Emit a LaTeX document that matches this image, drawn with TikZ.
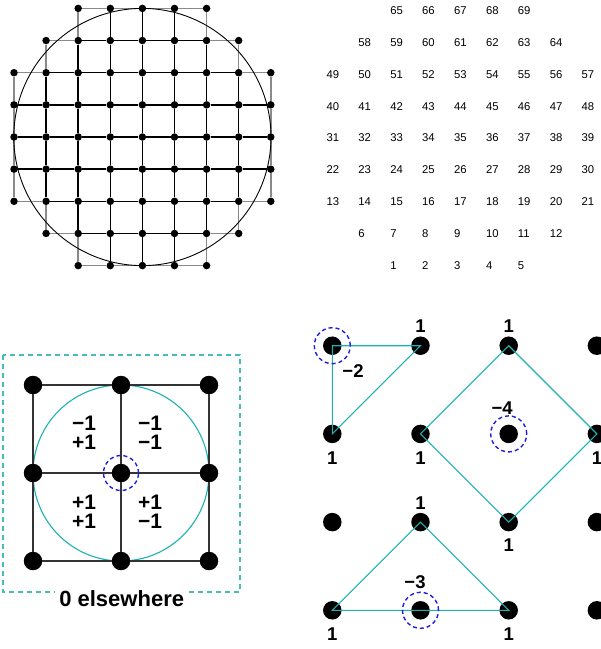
\documentclass[tikz,border=0pt]{standalone}
\usepackage{fontspec}
\setmainfont{Liberation Sans}
\usepackage{tikz}
\usetikzlibrary{positioning}
\definecolor{rimgray}{HTML}{8A8A8A}
\definecolor{darkline}{HTML}{333333}
\definecolor{stencil}{HTML}{1CB2B2}
\definecolor{boxcyan}{HTML}{45BDBD}
\definecolor{ringblue}{HTML}{1F1FE0}

\begin{document}
\begin{tikzpicture}[x=1pt,y=-1pt,
  gdot/.style={circle,fill=black,inner sep=0pt,minimum size=7.5pt},
  bdot/.style={circle,fill=black,inner sep=0pt,minimum size=18.5pt},
  edge/.style={black,line width=1.5pt},
  rim/.style={rimgray,line width=1.5pt},
  idx/.style={font=\fontsize{11.3}{13}\selectfont,anchor=base west,inner sep=0pt},
  wt/.style={font=\bfseries\fontsize{21}{19}\selectfont,align=center,inner sep=0pt},
  lbl/.style={font=\bfseries\fontsize{18.5}{20}\selectfont,inner sep=0pt},
  ring/.style={ringblue,line width=1.4pt,dash pattern=on 4pt off 3pt},
  stencil line/.style={stencil,line width=1.1pt}]
\useasboundingbox (0,0) rectangle (601,649);
\clip (0,0) rectangle (601,649);

% discretised disc and its point numbering
\foreach \r/\a/\b/\s in {9/3/7/1, 8/2/8/6, 7/1/9/13, 6/1/9/22, 5/1/9/31, 4/1/9/40, 3/1/9/49, 2/2/8/58, 1/3/7/65}{
  \foreach \c in {\a,...,\b}{
    \pgfmathtruncatemacro\k{\s+\c-\a}
    \node[gdot] (g-\r-\c) at ({14+32.1*(\c-1)},{8.4+32.15*(\r-1)}) {};
    \node[idx] (n\k) at ({326.3+31.9*(\c-1)},{14.7+31.8*(\r-1)}) {\k};
  }
}
\foreach \r/\a/\b in {1/3/7, 2/2/8, 3/1/9, 4/1/9, 5/1/9, 6/1/9, 7/1/9, 8/2/8, 9/3/7}{
  \pgfmathtruncatemacro\e{\b-1}
  \foreach \c in {\a,...,\e}{
    \pgfmathtruncatemacro\n{\c+1}
    \draw[edge] (g-\r-\c) -- (g-\r-\n);
    \draw[edge] (g-\c-\r) -- (g-\n-\r);
  }
}
\foreach \u/\v in {1-3/1-4, 1-4/1-5, 1-5/1-6, 1-6/1-7, 9-3/9-4, 9-4/9-5, 9-5/9-6, 9-6/9-7,
  3-1/4-1, 4-1/5-1, 5-1/6-1, 6-1/7-1, 3-9/4-9, 4-9/5-9, 5-9/6-9, 6-9/7-9,
  1-3/2-3, 2-2/2-3, 2-2/3-2, 3-1/3-2, 1-7/2-7, 2-7/2-8, 2-8/3-8, 3-8/3-9,
  7-1/7-2, 7-2/8-2, 8-2/8-3, 8-3/9-3, 7-8/7-9, 7-8/8-8, 8-7/8-8, 8-7/9-7}
  \draw[rim] (g-\u) -- (g-\v);
\coordinate (gc) at (142.4,137);
\draw[black,line width=0.9pt] (gc) circle (128.6pt);

% nine-point cell
\coordinate (bc) at (121,473);
\draw[stencil line] (bc) circle (88pt);
\draw[boxcyan,line width=1.3pt,dash pattern=on 5pt off 4pt] (3,355) rectangle (240,592);
\foreach \i/\y in {1/385,2/473,3/561}
  \foreach \j/\x in {1/33,2/121,3/209}
    \node[bdot] (b-\i-\j) at (\x,\y) {};
\foreach \i in {1,2,3}{
  \draw[darkline,line width=1.1pt] (b-\i-1) -- (b-\i-2);
  \draw[darkline,line width=1.1pt] (b-\i-2) -- (b-\i-3);
  \draw[darkline,line width=1.1pt] (b-1-\i) -- (b-2-\i);
  \draw[darkline,line width=1.1pt] (b-2-\i) -- (b-3-\i);
}
\draw[ring] (b-2-2.center) circle (17.5pt);
\node[wt] (q1) at (84,433) {−1\\+1};
\node[wt] (q2) at (150,433) {−1\\−1};
\node[wt] (q3) at (84,512) {+1\\+1};
\node[wt] (q4) at (150,512) {+1\\−1};
\node[font=\bfseries\fontsize{22}{24}\selectfont,fill=white,inner xsep=4pt,inner ysep=1pt,anchor=base] (zero) at (121.7,606) {0 elsewhere};

% stencils on the lattice
\foreach \i in {1,...,4}
  \foreach \j in {1,...,4}
    \node[bdot] (r-\i-\j) at ({332.3+88.2*(\j-1)},{345.7+88.2*(\i-1)}) {};
\draw[stencil line] (r-1-1.center) -- (r-1-2.center) -- (r-2-1.center) -- cycle;
\draw[stencil line] (r-1-3.center) -- (r-2-4.center) -- (r-3-3.center) -- (r-2-2.center) -- cycle;
\draw[stencil line] (r-3-2.center) -- (r-4-3.center) -- (r-4-1.center) -- cycle;
\draw[ring] (r-1-1.center) circle (18pt);
\draw[ring] (r-2-3.center) circle (18pt);
\draw[ring] (r-4-2.center) circle (18pt);
\node[lbl,above=3.5pt of r-1-2] (w12) {1};
\node[lbl,above=3.5pt of r-1-3] (w13) {1};
\node[lbl,above=3pt of r-3-2] (w32) {1};
\node[lbl,below=8pt of r-2-1] (w21) {1};
\node[lbl,below=8pt of r-2-2] (w22) {1};
\node[lbl,below=8pt of r-2-4] (w24) {1};
\node[lbl,below=7pt of r-3-3] (w33) {1};
\node[lbl,below=8pt of r-4-1] (w41) {1};
\node[lbl,below=8pt of r-4-3] (w43) {1};
\node[lbl,anchor=base] (m2) at (353,377) {−2};
\node[lbl,above=9.5pt of r-2-3,xshift=-6.5pt] (m4) {−4};
\node[lbl,above=12pt of r-4-2,xshift=-5.5pt] (m3) {−3};
\end{tikzpicture}
\end{document}
